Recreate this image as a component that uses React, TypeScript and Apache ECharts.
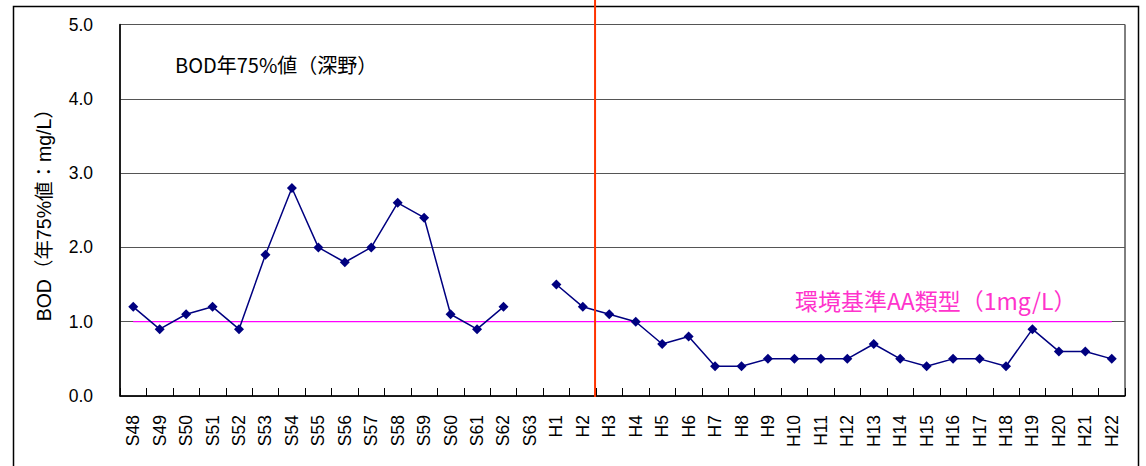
import React, { useEffect, useRef } from "react";
import * as echarts from "echarts";

const categories = [
  "S48", "S49", "S50", "S51", "S52", "S53", "S54", "S55", "S56", "S57", "S58", "S59", "S60", "S61", "S62", "S63",
  "H1", "H2", "H3", "H4", "H5", "H6", "H7", "H8", "H9", "H10", "H11", "H12", "H13", "H14", "H15", "H16", "H17",
  "H18", "H19", "H20", "H21", "H22",
];

const bodValues: (number | null)[] = [
  1.2, 0.9, 1.1, 1.2, 0.9, 1.9, 2.8, 2.0, 1.8, 2.0, 2.6, 2.4, 1.1, 0.9, 1.2, null,
  1.5, 1.2, 1.1, 1.0, 0.7, 0.8, 0.4, 0.4, 0.5, 0.5, 0.5, 0.5, 0.7, 0.5, 0.4, 0.5, 0.5,
  0.4, 0.9, 0.6, 0.6, 0.5,
];

const standardValue = 1.0;
const standardValues = categories.map(() => standardValue);

const dividerBetween = ["H2", "H3"];

const titleText = "BOD年75%値（深野）";
const standardLabel = "環境基準AA類型（1mg/L）";
const yAxisName = "BOD（年75%値：mg/L）";

const latin = "'Liberation Sans', Arial, 'Noto Sans CJK JP', sans-serif";
const cjk = "'Noto Sans CJK JP', sans-serif";

export default function App() {
  const ref = useRef<HTMLDivElement>(null);

  useEffect(() => {
    document.body.style.margin = "0";
    if (!ref.current) return;
    const chart = echarts.init(ref.current, null, { renderer: "svg" });
    chart.setOption({
      animation: false,
      backgroundColor: "#ffffff",
      grid: {
        left: 120,
        right: 21,
        top: 24.5,
        bottom: 70,
        show: true,
        borderColor: "#000",
        borderWidth: 1,
        backgroundColor: "transparent",
      },
      title: {
        text: titleText,
        left: 170,
        top: 49,
        textStyle: { fontFamily: cjk, fontSize: 20, fontWeight: "normal", color: "#000" },
      },
      xAxis: {
        type: "category",
        data: categories,
        boundaryGap: true,
        axisLine: { lineStyle: { color: "#000", width: 1.5 } },
        axisTick: { show: true, inside: true, length: 8, lineStyle: { color: "#000" } },
        axisLabel: {
          rotate: 90,
          margin: 19,
          fontSize: 17.5,
          fontFamily: latin,
          color: "#000",
          interval: 0,
        },
        splitLine: { show: false },
      },
      yAxis: {
        type: "value",
        min: 0,
        max: 5,
        interval: 1,
        name: yAxisName,
        nameLocation: "middle",
        nameGap: 66,
        nameTextStyle: { fontFamily: latin, fontSize: 19.5, color: "#000" },
        axisLine: { show: true, lineStyle: { color: "#000", width: 1.5 } },
        axisTick: { show: false },
        axisLabel: {
          margin: 27,
          fontSize: 17.5,
          fontFamily: latin,
          color: "#000",
          formatter: (v: number) => v.toFixed(1),
        },
        splitLine: { show: true, lineStyle: { color: "#555", width: 1.2 } },
      },
      series: [
        {
          name: "standard",
          type: "line",
          data: standardValues,
          symbol: "none",
          lineStyle: { color: "#ff00ff", width: 1.2 },
          z: 2,
        },
        {
          name: "BOD",
          type: "line",
          data: bodValues,
          connectNulls: false,
          symbol: "diamond",
          symbolSize: 10,
          itemStyle: { color: "#000080" },
          lineStyle: { color: "#000080", width: 1.5 },
          z: 3,
        },
      ],
    });

    const xa = chart.convertToPixel({ xAxisIndex: 0 }, dividerBetween[0]) as number;
    const xb = chart.convertToPixel({ xAxisIndex: 0 }, dividerBetween[1]) as number;
    const xDiv = (xa + xb) / 2 - 1;
    const yBottom = chart.convertToPixel({ yAxisIndex: 0 }, 0) as number;
    const yStd = chart.convertToPixel({ yAxisIndex: 0 }, standardValue) as number;

    chart.setOption({
      graphic: [
        {
          type: "rect",
          shape: { x: 13.5, y: 6.5, width: 1125, height: 600 },
          style: { fill: "none", stroke: "#000", lineWidth: 1.5 },
          silent: true,
          z: 0,
        },
        {
          type: "line",
          shape: { x1: xDiv, y1: 0, x2: xDiv, y2: yBottom + 1 },
          style: { stroke: "#ff3300", lineWidth: 2 },
          silent: true,
          z: 10,
        },
        {
          type: "text",
          x: 795,
          y: yStd - 22,
          style: {
            text: standardLabel,
            fontFamily: cjk,
            fontSize: 23,
            fill: "#ff33cc",
            textVerticalAlign: "middle",
          },
          silent: true,
          z: 10,
        },
      ],
    });

    return () => chart.dispose();
  }, []);

  return <div ref={ref} style={{ width: 1146, height: 466 }} />;
}
